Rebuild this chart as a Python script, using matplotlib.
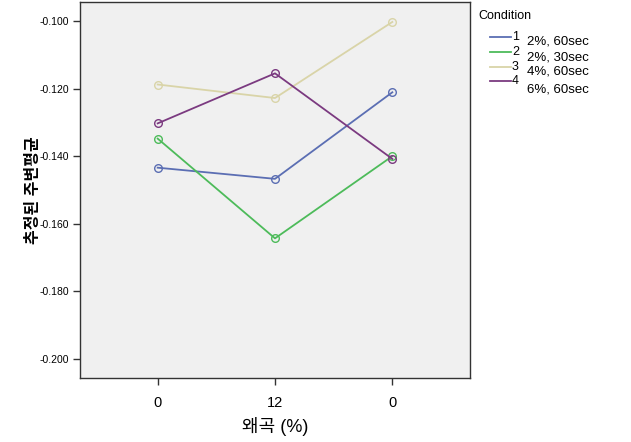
import matplotlib
matplotlib.use("Agg")
import matplotlib.pyplot as plt
from matplotlib.lines import Line2D

plt.rcParams['font.family'] = ['Liberation Sans', 'Noto Sans CJK KR', 'DejaVu Sans']

categories = ["0", "12", "0"]
cond_ids = ["1", "2", "3", "4"]
cond_labels = ["2%, 60sec", "2%, 30sec", "4%, 60sec", "6%, 60sec"]
series_1 = [-0.1434, -0.1467, -0.1211]
series_2 = [-0.1348, -0.1643, -0.1400]
series_3 = [-0.1188, -0.1228, -0.1003]
series_4 = [-0.1303, -0.1155, -0.1408]
colors = ["#5b6eb3", "#4dbb5a", "#d9d4a8", "#7b3a80"]
yticks = [-0.100, -0.120, -0.140, -0.160, -0.180, -0.200]

W, H = 631, 442
fig = plt.figure(figsize=(W / 100, H / 100), dpi=100)
ax = fig.add_axes([80 / W, 1 - 378 / H, 390 / W, 376 / H])
ax.set_facecolor("#f0f0f0")

x = list(range(len(categories)))
for vals, c in zip([series_1, series_2, series_3, series_4], colors):
    ax.plot(x, vals, color=c, lw=1.3, marker='o', markersize=5.5,
            markerfacecolor='none', markeredgecolor=c, markeredgewidth=1.0)

ax.set_xlim(-0.662, 2.662)
ax.set_ylim(-0.2056, -0.0944)
ax.set_xticks(x)
ax.set_xticklabels(categories, fontsize=10.5)
ax.set_yticks(yticks)
ax.set_yticklabels([f"{v:.3f}" for v in yticks], fontsize=7.5)
ax.tick_params(direction='out', length=5, width=1, color='#333333', pad=3)
ax.tick_params(axis='x', pad=8)
for s in ax.spines.values():
    s.set_color('#333333')
    s.set_linewidth(1.0)

ax.set_xlabel("왜곡 (%)", fontsize=13, labelpad=5)
ax.set_ylabel("추정된 주변평균", fontsize=11.5, fontweight='bold', labelpad=-1)

# legend
fig.text(478 / W, 1 - 16 / H, "Condition", fontsize=9, va='center', ha='left')
ly = [37, 52, 67, 81]
ty = [42, 57, 72, 89]
for cid, lab, c, yl, yt in zip(cond_ids, cond_labels, colors, ly, ty):
    fig.add_artist(Line2D([490 / W, 511 / W], [1 - yl / H, 1 - yl / H], color=c, lw=1.3))
    fig.text(512 / W, 1 - yl / H, cid, fontsize=9, va='center', ha='left')
    fig.text(527 / W, 1 - yt / H, lab, fontsize=9.5, va='center', ha='left')

fig.savefig("out.png", dpi=100)
